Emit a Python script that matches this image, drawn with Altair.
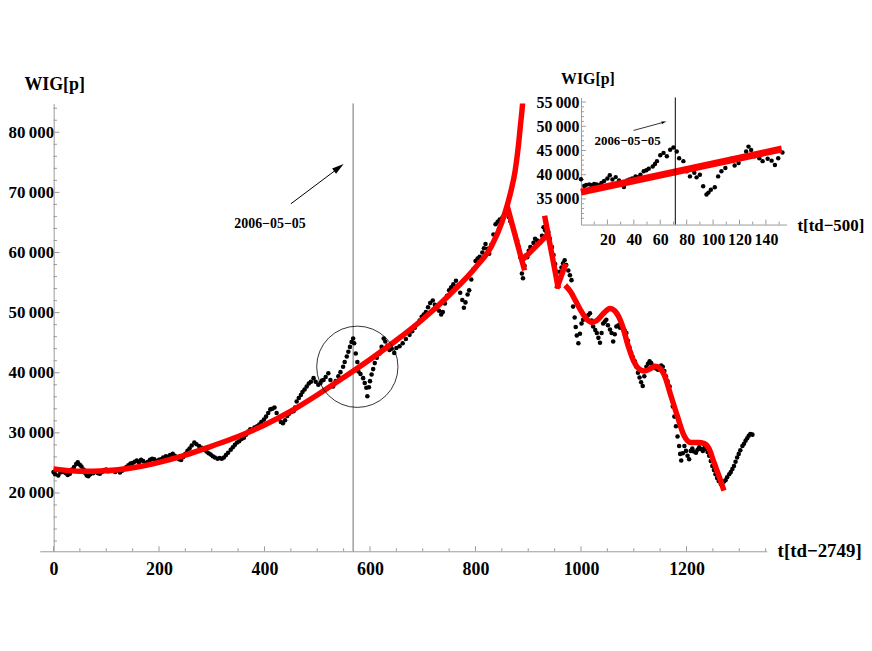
import altair as alt
import pandas as pd

# ---------------- main series (WIG index, t in td-2749) ----------------
wig_a = [(0, 23500), (3, 23100), (6, 23800), (9, 22900), (13, 23400), (16, 23700), (19, 23500),
         (23, 23300), (27, 23000), (31, 23200), (35, 23900), (39, 24300), (43, 24800), (46, 25100),
         (50, 24700), (53, 24400), (57, 23900), (60, 23300), (63, 22900), (66, 22800), (70, 23100),
         (73, 23400), (76, 23300), (80, 23600), (84, 23300), (88, 23200), (92, 23500), (96, 23800),
         (100, 23900), (104, 23600), (108, 23800), (113, 23700), (117, 23500), (121, 23800),
         (126, 23400), (130, 23700), (134, 24000), (138, 24300), (142, 24600), (146, 24900),
         (150, 25000), (154, 25200), (158, 25400), (162, 25100), (166, 25500), (170, 25300),
         (175, 25000), (179, 25200), (183, 25500), (187, 25700), (191, 25600), (196, 25300),
         (200, 25500), (204, 25600), (208, 25900), (213, 26100), (217, 26000), (221, 26300),
         (226, 26500), (230, 26200), (234, 25900), (238, 25600), (242, 25500), (246, 26000),
         (250, 26500), (254, 27000), (258, 27400), (262, 27900), (267, 28400), (271, 28100),
         (276, 27800), (281, 27500), (286, 27200), (290, 26900), (294, 26600), (298, 26400)]
wig_b = [(302, 26100), (306, 25900), (311, 25700), (315, 25800), (319, 25700), (323, 25900),
         (327, 26300), (331, 26700), (336, 27200), (340, 27600), (344, 28000), (348, 28400),
         (352, 28600), (357, 29000), (361, 29200), (365, 29700), (369, 30200), (373, 30600),
         (377, 30500), (381, 30900), (386, 31100), (390, 31400), (394, 31800), (399, 32200),
         (403, 32700), (407, 33300), (411, 33900), (415, 34000), (419, 34200), (423, 33300),
         (427, 32300), (431, 31800), (435, 31600), (439, 32100), (443, 32800), (447, 33200),
         (451, 33500), (455, 33600), (458, 34200), (461, 35200), (465, 35800), (469, 36300),
         (472, 36800), (476, 37200), (480, 37700), (484, 38200), (488, 38500), (493, 39100),
         (497, 38500), (502, 38000), (506, 38300), (509, 38700), (512, 38800), (516, 39300),
         (521, 39900), (525, 38800), (530, 37700), (535, 38600), (540, 39400), (544, 40100),
         (549, 41000), (552, 41800), (556, 42700), (559, 43500), (562, 44300), (565, 45100),
         (568, 45700), (570, 44900), (573, 43200), (576, 41800), (578, 40200), (582, 39800),
         (587, 39100), (590, 38300), (593, 37500), (595, 36100), (598, 37600)]
wig_c = [(600, 38600), (603, 39700), (606, 40600), (609, 41600), (613, 42500), (618, 43200),
         (622, 44300), (626, 45700), (629, 45200), (633, 44500), (637, 43800), (641, 44000),
         (646, 43300), (650, 44100), (656, 44400), (662, 44900), (668, 45600), (675, 46300),
         (680, 46900), (685, 47500), (690, 48200), (694, 48700), (698, 49300), (702, 49700),
         (706, 50100), (710, 50900), (714, 51600), (719, 52000), (723, 51300), (727, 50600),
         (731, 50300), (735, 49700), (738, 50100), (742, 51500), (746, 52800), (750, 53700),
         (754, 54200), (758, 54700), (763, 55300), (767, 54500), (771, 53300), (775, 52100),
         (778, 50800), (781, 51700), (785, 53000), (788, 53700), (792, 55500), (796, 57200),
         (800, 58600), (804, 59000), (808, 59300), (813, 60000), (816, 60700), (819, 61400),
         (823, 60600), (826, 59800), (830, 61300), (834, 63000), (838, 64700), (842, 65100),
         (846, 65500), (851, 65800), (854, 66300), (857, 66900), (860, 67500), (863, 65900),
         (866, 65200), (869, 64700), (873, 63600), (876, 62800), (879, 62000), (882, 60900),
         (885, 59200), (888, 56500), (890, 55700), (893, 57800), (895, 59500), (898, 59200)]
wig_d = [(901, 60300), (904, 60900), (907, 60700), (910, 61600), (913, 62300), (917, 62000),
         (920, 61600), (923, 61700), (926, 62800), (929, 64200), (932, 63700), (935, 63300),
         (938, 63400), (941, 62300), (945, 60900), (948, 59600), (951, 58100), (954, 56800),
         (957, 55700), (960, 56800), (963, 57500), (966, 58200), (969, 58700), (972, 57900),
         (976, 57000), (979, 56200), (982, 55400), (984, 53000), (985, 51000), (988, 49200),
         (990, 47600), (992, 46200), (995, 44900), (998, 46500), (1001, 48200), (1004, 48800),
         (1008, 49100), (1011, 49300), (1014, 49600), (1017, 49900), (1020, 48700), (1023, 47700),
         (1027, 47100), (1030, 46600), (1033, 45800), (1036, 45000), (1039, 46600), (1042, 48200),
         (1045, 48500), (1048, 48800), (1051, 47900), (1055, 47200), (1058, 46600), (1061, 45200),
         (1064, 46400), (1067, 47700), (1071, 47900), (1074, 47500), (1077, 47700), (1080, 47300),
         (1083, 47000), (1086, 46600), (1089, 45300), (1092, 44200), (1095, 43300), (1098, 42600)]
wig_e = [(1102, 41900), (1105, 41000), (1108, 40000), (1111, 39200), (1114, 38400), (1117, 37800),
         (1120, 39400), (1124, 41000), (1127, 41500), (1130, 41900), (1133, 41600), (1136, 41200),
         (1139, 41000), (1142, 40700), (1146, 40500), (1149, 40900), (1152, 41200), (1155, 41000),
         (1158, 40300), (1161, 39400), (1164, 38600), (1168, 37700), (1171, 36100), (1174, 34400),
         (1177, 32700), (1180, 31100), (1183, 29400), (1186, 27800), (1188, 26500), (1190, 25400),
         (1193, 26600), (1196, 27800), (1199, 27000), (1202, 26200), (1205, 25600), (1208, 27000),
         (1211, 27400), (1214, 26900), (1218, 26700), (1221, 27200), (1224, 27600), (1227, 27300),
         (1231, 27000), (1234, 27500), (1237, 27300), (1240, 26800), (1243, 26200), (1246, 25300),
         (1249, 24500), (1252, 23800), (1255, 23100), (1258, 22500), (1261, 22000), (1265, 21500),
         (1268, 21700), (1271, 21900), (1274, 22100), (1277, 22600), (1281, 23100), (1284, 23500),
         (1287, 24000), (1290, 24500), (1293, 25200), (1296, 25900), (1299, 26500), (1302, 27100),
         (1306, 27800), (1309, 28200), (1312, 28700), (1315, 29100), (1318, 29500), (1321, 29800),
         (1325, 29700)]

# ---------------- fitted curves (red) ----------------
fit_bubble = [(0, 24000), (50, 23600), (100, 23700), (150, 24200), (200, 25100), (250, 26300),
              (300, 27800), (350, 29400), (400, 31300), (450, 33600), (500, 36300), (550, 39200),
              (600, 42200), (650, 45400), (700, 48900), (750, 52900), (800, 57500), (830, 61000),
              (850, 65000), (860, 67800), (868, 70500), (875, 73500), (881, 77500), (885, 81000),
              (889, 84500), (891, 87000)]
fit_seg1 = [(860, 67770), (893, 57020)]
fit_seg2 = [(888, 58680), (935, 62810)]
fit_seg3 = [(931, 66120), (957, 54000)]
fit_seg4 = [(954, 54000), (971, 58130)]
fit_crash = [(970, 54550), (980, 53500), (989, 52070), (1000, 50300), (1010, 49000), (1020, 48400),
             (1030, 48700), (1042, 49800), (1055, 50700), (1065, 50200), (1077, 48200),
             (1090, 44300), (1100, 41900), (1108, 40800), (1120, 40300), (1132, 40700),
             (1141, 41100), (1150, 40700), (1158, 39600), (1170, 36300), (1183, 32700),
             (1195, 29600), (1208, 28400), (1222, 28400), (1234, 28200), (1243, 27300),
             (1252, 25100), (1262, 22700), (1271, 20400)]

# ---------------- inset series (t in td-500) ----------------
inset_data = [(0, 39040), (2.5, 37660), (4, 37900), (6.3, 38000), (8, 37800), (10, 38100),
              (12, 38000), (13.8, 37800), (15.5, 38300), (17.5, 38700), (20, 39200), (21.8, 39900),
              (23.8, 39000), (26.3, 39500), (28.8, 38800), (30.5, 38200), (32.5, 37450), (35, 38800),
              (36.8, 39000), (38.8, 39200), (41.3, 39650), (43, 39500), (45, 40000), (47.5, 40700),
              (49.5, 40900), (51.3, 41250), (54.3, 41700), (56, 42200), (57.5, 42800), (60, 44000),
              (62.5, 44500), (65, 43800), (67.5, 45150), (70, 45600), (72.5, 44800), (74.3, 43400),
              (77.5, 42800), (80, 40700), (82.5, 39650), (85.8, 40400), (87.5, 39450), (90, 40000),
              (92.5, 37600), (95, 35900), (96.5, 36300), (98.3, 36900), (101.3, 37400), (103.8, 39650),
              (106.3, 40700), (109.3, 41400), (111.8, 42800), (113.8, 43300), (116.3, 41900),
              (119.3, 42400), (122.5, 43800), (125, 44800), (126.8, 45800), (128.8, 45100),
              (131.3, 43800), (135, 43400), (137.5, 42800), (141.3, 43300), (144.3, 42900),
              (146.8, 42000), (149.3, 43400), (152.5, 44600)]
inset_fit = [(0, 36400), (152, 45300)]

# ---------------- ticks / labels ----------------
main_x_labels = [0, 200, 400, 600, 800, 1000, 1200]
main_x_minor = [v for v in range(50, 1351, 50) if v % 200 != 0]
main_y_labels = [20000, 30000, 40000, 50000, 60000, 70000, 80000]
main_y_minor = [v for v in range(12000, 84001, 2000) if v % 10000 != 0]
inset_x_labels = [20, 40, 60, 80, 100, 120, 140]
inset_x_minor = [10, 30, 50, 70, 90, 110, 130, 150]
inset_y_labels = [35000, 40000, 45000, 50000, 55000]
inset_y_minor = [v for v in range(30000, 55001, 1000) if v % 5000 != 0]

date_label = "2006\u221205\u221205"
FONT = "Liberation Serif"


def frame(pairs, name=None):
    df = pd.DataFrame(pairs, columns=["t", "v"])
    if name is not None:
        df["seg"] = name
    return df


main_df = pd.concat([frame(p) for p in (wig_a, wig_b, wig_c, wig_d, wig_e)], ignore_index=True)
fit_df = pd.concat([frame(fit_bubble, "a"), frame(fit_seg1, "b"), frame(fit_seg2, "c"),
                    frame(fit_seg3, "d"), frame(fit_seg4, "e"), frame(fit_crash, "f")],
                   ignore_index=True)
inset_df = frame(inset_data)
inset_fit_df = frame(inset_fit)

W, H = 732, 451
xs = alt.Scale(domain=[-26, 1352], nice=False, zero=False)
ys = alt.Scale(domain=[10300, 84800], nice=False, zero=False)
ixs = alt.Scale(domain=[0, 155.6], range=[545, 752], nice=False, zero=False)
iys = alt.Scale(domain=[29700, 55950], range=[122, -6], nice=False, zero=False)

sep_expr = "replace(format(datum.value, ','), ',', '\u2009')"
AXC = "#9a9a9a"

ax_x = alt.Axis(orient="bottom", values=main_x_labels, format="d", title=None, grid=False,
                ticks=False, tickSize=0, labelPadding=9, labelFont=FONT, labelFontWeight="bold",
                labelFontSize=18, labelColor="black", domainColor=AXC, domainWidth=1,
                labelFlush=False, labelOverlap=False)
ax_y = alt.Axis(orient="left", values=main_y_labels, labelExpr=sep_expr, title=None, grid=False,
                ticks=False, tickSize=0, labelPadding=0, offset=-14, labelFont=FONT,
                labelFontWeight="bold", labelFontSize=17, labelColor="black",
                domainColor=AXC, domainWidth=1, labelFlush=False, labelOverlap=False)
iax_x = alt.Axis(orient="bottom", values=inset_x_labels, format="d", title=None, grid=False,
                 ticks=False, tickSize=0, labelPadding=7, offset=-(H - 122), labelFont=FONT,
                 labelFontWeight="bold", labelFontSize=16, labelColor="black",
                 domainColor=AXC, domainWidth=1, labelFlush=False, labelOverlap=False)
iax_y = alt.Axis(orient="left", values=inset_y_labels, labelExpr=sep_expr, title=None, grid=False,
                 ticks=False, tickSize=0, labelPadding=2, offset=-545, labelFont=FONT,
                 labelFontWeight="bold", labelFontSize=16, labelColor="black",
                 domainColor=AXC, domainWidth=1, labelFlush=False, labelOverlap=False)

one = pd.DataFrame({"k": [0]})

# ---------------- main panel ----------------
X = lambda f="t": alt.X(f"{f}:Q", scale=xs, axis=ax_x)
Y = lambda f="v": alt.Y(f"{f}:Q", scale=ys, axis=ax_y)

dots = alt.Chart(main_df).mark_circle(size=21, color="black", opacity=1).encode(x=X(), y=Y())
fits = alt.Chart(fit_df).mark_line(color="#ff0000", strokeWidth=5.5, interpolate="monotone",
                                   clip=True).encode(x=X(), y=Y(), detail="seg:N")

vline = alt.Chart(one).mark_rule(color="#6e6e6e", strokeWidth=1).encode(
    x=alt.datum(568, scale=xs, axis=ax_x))

ytick_major = alt.Chart(pd.DataFrame({"v": main_y_labels})).mark_rule(
    color=AXC, x2Offset=6).encode(y=Y(), x=alt.datum(0, scale=xs, axis=ax_x), x2=alt.datum(0))
ytick_minor = alt.Chart(pd.DataFrame({"v": main_y_minor})).mark_rule(
    color=AXC, x2Offset=3.5).encode(y=Y(), x=alt.datum(0, scale=xs, axis=ax_x), x2=alt.datum(0))
xtick_major = alt.Chart(pd.DataFrame({"t": main_x_labels})).mark_rule(
    color=AXC, y2Offset=-5).encode(x=X(), y=alt.datum(10300, scale=ys, axis=ax_y), y2=alt.datum(10300))
xtick_minor = alt.Chart(pd.DataFrame({"t": main_x_minor})).mark_rule(
    color=AXC, y2Offset=-3).encode(x=X(), y=alt.datum(10300, scale=ys, axis=ax_y), y2=alt.datum(10300))

circle = alt.Chart(one).mark_point(shape="circle", size=6700, filled=False, color="black",
                                   strokeWidth=0.8, opacity=1).encode(
    x=alt.datum(576, scale=xs, axis=ax_x), y=alt.datum(40990, scale=ys, axis=ax_y))

arrow_line = alt.Chart(one).mark_rule(color="black", strokeWidth=1).encode(
    x=alt.datum(450, scale=xs, axis=ax_x), y=alt.datum(68100, scale=ys, axis=ax_y),
    x2=alt.datum(541), y2=alt.datum(74100))
arrow_head = alt.Chart(one).mark_point(shape="M0,0L-0.55,2L0.55,2Z", angle=53, size=144,
                                       filled=True, color="black", opacity=1).encode(
    x=alt.datum(550, scale=xs, axis=ax_x), y=alt.datum(74710, scale=ys, axis=ax_y))
date_text = alt.Chart(one).mark_text(text=date_label, font=FONT, fontWeight="bold", fontSize=14,
                                     color="black", align="center", baseline="middle").encode(
    x=alt.datum(410.5, scale=xs, axis=ax_x), y=alt.datum(64790, scale=ys, axis=ax_y))

y_title = alt.Chart(one).mark_text(text="WIG[p]", font=FONT, fontWeight="bold", fontSize=18,
                                   color="black", align="center", baseline="middle").encode(
    x=alt.value(15), y=alt.value(-19))
x_title = alt.Chart(one).mark_text(text="t[td\u22122749]", font=FONT, fontWeight="bold",
                                   fontSize=19, color="black", align="left",
                                   baseline="middle").encode(x=alt.value(743), y=alt.value(451))

main = alt.layer(vline, ytick_minor, ytick_major, xtick_minor, xtick_major, dots, fits, circle,
                 arrow_line, arrow_head, date_text, y_title, x_title)

# ---------------- inset panel ----------------
IX = lambda f="t": alt.X(f"{f}:Q", scale=ixs, axis=iax_x)
IY = lambda f="v": alt.Y(f"{f}:Q", scale=iys, axis=iax_y)

i_dots = alt.Chart(inset_df).mark_circle(size=20, color="black", opacity=1).encode(x=IX(), y=IY())
i_fit = alt.Chart(inset_fit_df).mark_line(color="#ff0000", strokeWidth=7).encode(x=IX(), y=IY())
i_vline = alt.Chart(one).mark_rule(color="black", strokeWidth=1).encode(
    x=alt.datum(71.4, scale=ixs, axis=iax_x), y=alt.datum(55950, scale=iys, axis=iax_y),
    y2=alt.datum(29700))
i_ytick_major = alt.Chart(pd.DataFrame({"v": inset_y_labels})).mark_rule(
    color=AXC, x2Offset=5).encode(y=IY(), x=alt.datum(0, scale=ixs, axis=iax_x), x2=alt.datum(0))
i_ytick_minor = alt.Chart(pd.DataFrame({"v": inset_y_minor})).mark_rule(
    color=AXC, x2Offset=3).encode(y=IY(), x=alt.datum(0, scale=ixs, axis=iax_x), x2=alt.datum(0))
i_xtick_major = alt.Chart(pd.DataFrame({"t": inset_x_labels})).mark_rule(
    color=AXC, y2Offset=-5).encode(x=IX(), y=alt.datum(29700, scale=iys, axis=iax_y), y2=alt.datum(29700))
i_xtick_minor = alt.Chart(pd.DataFrame({"t": inset_x_minor})).mark_rule(
    color=AXC, y2Offset=-3).encode(x=IX(), y=alt.datum(29700, scale=iys, axis=iax_y), y2=alt.datum(29700))
i_arrow_line = alt.Chart(one).mark_rule(color="black", strokeWidth=0.8).encode(
    x=alt.datum(39.8, scale=ixs, axis=iax_x), y=alt.datum(49140, scale=iys, axis=iax_y),
    x2=alt.datum(62.5), y2=alt.datum(50820))
i_arrow_head = alt.Chart(one).mark_point(shape="M0,0L-0.5,2L0.5,2Z", angle=75, size=25,
                                         filled=True, color="black", opacity=1).encode(
    x=alt.datum(64.7, scale=ixs, axis=iax_x), y=alt.datum(50980, scale=iys, axis=iax_y))
i_date_text = alt.Chart(one).mark_text(text=date_label, font=FONT, fontWeight="bold", fontSize=13,
                                       color="black", align="center", baseline="middle").encode(
    x=alt.datum(35.3, scale=ixs, axis=iax_x), y=alt.datum(46890, scale=iys, axis=iax_y))
i_y_title = alt.Chart(one).mark_text(text="WIG[p]", font=FONT, fontWeight="bold", fontSize=16,
                                     color="black", align="center", baseline="middle").encode(
    x=alt.value(552), y=alt.value(-25))
i_x_title = alt.Chart(one).mark_text(text="t[td\u2212500]", font=FONT, fontWeight="bold",
                                     fontSize=17, color="black", align="left",
                                     baseline="middle").encode(x=alt.value(763), y=alt.value(123))

inset = alt.layer(i_ytick_minor, i_ytick_major, i_xtick_minor, i_xtick_major, i_dots, i_fit,
                  i_vline, i_arrow_line, i_arrow_head, i_date_text, i_y_title, i_x_title)

chart = alt.layer(main, inset).resolve_scale(x="independent", y="independent").properties(
    width=W, height=H,
    autosize=alt.AutoSizeParams(type="none"),
    padding={"left": 32, "top": 94, "right": 98, "bottom": 48},
    background="white",
).configure_view(stroke=None)

chart.save("out.html", embed_options={"renderer": "svg", "actions": False})
